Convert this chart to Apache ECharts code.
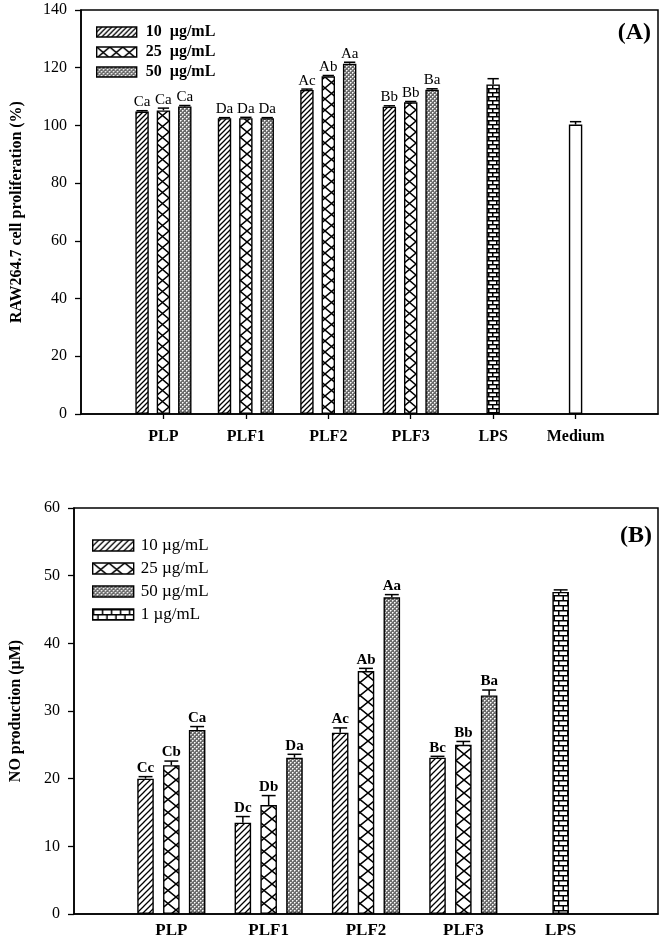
<!DOCTYPE html>
<html>
<head>
<meta charset="utf-8">
<script src="https://cdn.jsdelivr.net/npm/echarts@6/dist/echarts.min.js"></script>
<style>
  html, body { margin: 0; padding: 0; background: #fff; }
  #chart { width: 661px; height: 939px; }
</style>
</head>
<body>
<div id="chart"></div>
<script>
// ---- panel A: RAW264.7 cell proliferation (%) ----
const categoriesA = ['PLP', 'PLF1', 'PLF2', 'PLF3', 'LPS', 'Medium'];
const prolif10 = [104.8, 102.5, 112.3, 106.5];
const prolif25 = [105.2, 102.5, 117.0, 108.0];
const prolif50 = [106.6, 102.5, 121.4, 112.4];
const prolif10Err = [0.3, 0.2, 0.3, 0.3];
const prolif25Err = [0.8, 0.3, 0.3, 0.3];
const prolif50Err = [0.3, 0.2, 0.5, 0.3];
const prolifLPS = [114.2];
const prolifLPSErr = [2.0];
const prolifMedium = [100.3];
const prolifMediumErr = [1.0];
const lettersA10 = ['Ca', 'Da', 'Ac', 'Bb'];
const lettersA25 = ['Ca', 'Da', 'Ab', 'Bb'];
const lettersA50 = ['Ca', 'Da', 'Aa', 'Ba'];
const yTicksA = [0, 20, 40, 60, 80, 100, 120, 140];

// ---- panel B: NO production (uM) ----
const categoriesB = ['PLP', 'PLF1', 'PLF2', 'PLF3', 'LPS'];
const no10 = [20.0, 13.5, 26.8, 23.1];
const no25 = [22.0, 16.1, 35.9, 25.0];
const no50 = [27.2, 23.1, 46.8, 32.3];
const no10Err = [0.3, 0.9, 0.7, 0.2];
const no25Err = [0.6, 1.4, 0.4, 0.5];
const no50Err = [0.5, 0.5, 0.4, 0.8];
const noLPS = [47.6];
const noLPSErr = [0.3];
const lettersB10 = ['Cc', 'Dc', 'Ac', 'Bc'];
const lettersB25 = ['Cb', 'Db', 'Ab', 'Bb'];
const lettersB50 = ['Ca', 'Da', 'Aa', 'Ba'];
const yTicksB = [0, 10, 20, 30, 40, 50, 60];

const legendA = ['10  µg/mL', '25  µg/mL', '50  µg/mL'];
const legendB = ['10 µg/mL', '25 µg/mL', '50 µg/mL', '1 µg/mL'];

const FONT = '"Liberation Serif", "Times New Roman", serif';

// fill patterns drawn on small canvases
function makeTile(w, h, draw) {
    const c = document.createElement('canvas');
    c.width = w;
    c.height = h;
    const ctx = c.getContext('2d');
    ctx.fillStyle = '#fff';
    ctx.fillRect(0, 0, w, h);
    draw(ctx, w, h);
    return { image: c, repeat: 'repeat' };
}
function hatch(size) {
    return makeTile(size, size, (ctx, w, h) => {
        ctx.strokeStyle = '#000';
        ctx.lineWidth = 1.3;
        ctx.beginPath();
        ctx.moveTo(-1, h + 1); ctx.lineTo(w + 1, -1);
        ctx.moveTo(-1 - w, h + 1); ctx.lineTo(1, -1);
        ctx.moveTo(w - 1, h + 1); ctx.lineTo(2 * w + 1, -1);
        ctx.stroke();
    });
}
function cross(w, h) {
    return makeTile(w, h, (ctx) => {
        ctx.strokeStyle = '#000';
        ctx.lineWidth = 1.5;
        ctx.beginPath();
        ctx.moveTo(0, 0); ctx.lineTo(w, h);
        ctx.moveTo(w, 0); ctx.lineTo(0, h);
        ctx.stroke();
    });
}
function dots() {
    return makeTile(4, 4, (ctx) => {
        ctx.fillStyle = '#6c6c6c';
        ctx.fillRect(0, 0, 4, 4);
        ctx.fillStyle = '#fff';
        ctx.fillRect(0, 0, 1, 1);
        ctx.fillRect(2, 2, 1, 1);
        ctx.fillStyle = '#bcbcbc';
        ctx.fillRect(1, 0, 1, 1);
        ctx.fillRect(0, 1, 1, 1);
        ctx.fillRect(3, 2, 1, 1);
        ctx.fillRect(2, 3, 1, 1);
    });
}
function brick(w, h) {
    return makeTile(w, h, (ctx) => {
        ctx.fillStyle = '#000';
        ctx.fillRect(0, 0, w, 1.5);
        ctx.fillRect(0, h / 2, w, 1.5);
        ctx.fillRect(0, 0, 1.5, h / 2);
        ctx.fillRect(w / 2, h / 2, 1.5, h / 2);
    });
}

// pad values so they sit on category index start+1 (index 0 is an empty slot)
function place(vals, start, total) {
    const out = new Array(total).fill('-');
    vals.forEach((v, i) => { out[start + 1 + i] = v; });
    return out;
}

const nA = categoriesA.length + 2;
const nB = categoriesB.length + 2;

const barFracA = 0.163, gapA = 0.59;
const barFracB = 0.17, gapB = 0.56;

function barSeries(name, data, color, axis, frac, gap, stack) {
    return {
        name: name,
        type: 'bar',
        xAxisIndex: axis,
        yAxisIndex: axis,
        data: data,
        stack: stack,
        barWidth: (frac * 100) + '%',
        barGap: (gap * 100) + '%',
        itemStyle: { color: color, borderColor: '#000', borderWidth: 1.4 },
        emphasis: { disabled: true },
        animation: false
    };
}

// error bars (upper half only) and significance letters
function errorSeries(axis, items, frac, gap, bold) {
    return {
        type: 'custom',
        xAxisIndex: axis,
        yAxisIndex: axis,
        data: items.map(d => [d[0], d[1], d[2], d[3]]),
        animation: false,
        silent: true,
        z: 5,
        renderItem: function (params, api) {
            const cat = api.value(0), val = api.value(1), err = api.value(2), slot = api.value(3);
            const bw = api.size([1, 0])[0];
            const barW = bw * frac;
            const x = api.coord([cat, 0])[0] + slot * barW * (1 + gap);
            const y0 = api.coord([cat, val])[1];
            const y1 = api.coord([cat, val + err])[1];
            const half = barW * 0.42;
            const label = items[params.dataIndex][4];
            const children = [
                { type: 'line', shape: { x1: x, y1: y0, x2: x, y2: y1 }, style: { stroke: '#000', lineWidth: 1.5 } },
                { type: 'line', shape: { x1: x - half, y1: y1, x2: x + half, y2: y1 }, style: { stroke: '#000', lineWidth: 1.5 } }
            ];
            if (label) {
                children.push({
                    type: 'text',
                    style: {
                        text: label, x: x, y: y1 - 1,
                        align: 'center', verticalAlign: 'bottom',
                        font: (bold ? 'bold ' : '') + '15px ' + FONT, fill: '#000'
                    }
                });
            }
            return { type: 'group', children: children };
        }
    };
}

function groupItems(vals, errs, letters, slot, start) {
    return vals.map((v, i) => [start + 1 + i, v, errs[i], slot, letters ? letters[i] : '']);
}

const errItemsA = [].concat(
    groupItems(prolif10, prolif10Err, lettersA10, -1, 0),
    groupItems(prolif25, prolif25Err, lettersA25, 0, 0),
    groupItems(prolif50, prolif50Err, lettersA50, 1, 0),
    groupItems(prolifLPS, prolifLPSErr, null, 0, 4),
    groupItems(prolifMedium, prolifMediumErr, null, 0, 5)
);
const errItemsB = [].concat(
    groupItems(no10, no10Err, lettersB10, -1, 0),
    groupItems(no25, no25Err, lettersB25, 0, 0),
    groupItems(no50, no50Err, lettersB50, 1, 0),
    groupItems(noLPS, noLPSErr, null, 0, 4)
);

function xAxis(grid, cats, labelSize, margin, ticks) {
    const data = [''].concat(cats, ['']);
    return {
        type: 'category',
        gridIndex: grid,
        data: data,
        boundaryGap: false,
        axisLine: { lineStyle: { color: '#000', width: 1.5 } },
        axisTick: {
            show: ticks,
            length: 5,
            lineStyle: { color: '#000', width: 1.3 },
            interval: (i) => i > 0 && i < data.length - 1
        },
        axisLabel: {
            interval: 0, margin: margin, color: '#000',
            fontFamily: FONT, fontWeight: 'bold', fontSize: labelSize
        },
        splitLine: { show: false }
    };
}
function yAxis(grid, ticks, name, gap) {
    return {
        type: 'value',
        gridIndex: grid,
        min: ticks[0],
        max: ticks[ticks.length - 1],
        interval: ticks[1] - ticks[0],
        name: name,
        nameLocation: 'middle',
        nameGap: gap,
        nameTextStyle: { fontFamily: FONT, fontWeight: 'bold', fontSize: 16, color: '#000' },
        axisLine: { show: true, lineStyle: { color: '#000', width: 1.5 } },
        axisTick: { show: true, length: 6, lineStyle: { color: '#000', width: 1.3 } },
        axisLabel: { margin: 14, color: '#000', fontFamily: FONT, fontSize: 16 },
        splitLine: { show: false }
    };
}

const chart = echarts.init(document.getElementById('chart'), null, { renderer: 'canvas' });

const pHatchA = hatch(5), pCrossA = cross(13, 11), pDotsA = dots(), pBrickA = brick(8, 8);
const pHatchB = hatch(6), pCrossB = cross(16, 13), pDotsB = dots(), pBrickB = brick(9, 10);

const option = {
    backgroundColor: '#fff',
    animation: false,
    grid: [
        { left: 81, right: 2, top: 10, bottom: 939 - 414, show: true, borderColor: '#000', borderWidth: 1.5 },
        { left: 74, right: 2, top: 508, bottom: 939 - 916, show: true, borderColor: '#000', borderWidth: 1.5 }
    ],
    xAxis: [
        xAxis(0, categoriesA, 16, 15, true),
        xAxis(1, categoriesB, 17, 8, false)
    ],
    yAxis: [
        yAxis(0, yTicksA, 'RAW264.7 cell proliferation (%)', 56),
        yAxis(1, yTicksB, 'NO production (µM)', 50)
    ],
    legend: [
        {
            data: legendA, orient: 'vertical', left: 96, top: 24, padding: 0,
            icon: 'rect', itemWidth: 40, itemHeight: 10, itemGap: 4,
            selectedMode: false,
            itemStyle: { borderColor: '#000', borderWidth: 1.4 },
            textStyle: { fontFamily: FONT, fontWeight: 'bold', fontSize: 16, lineHeight: 16, color: '#000', padding: [0, 0, 0, 4] }
        },
        {
            data: legendB, orient: 'vertical', left: 92, top: 537, padding: 0,
            icon: 'rect', itemWidth: 41, itemHeight: 11, itemGap: 6,
            selectedMode: false,
            itemStyle: { borderColor: '#000', borderWidth: 1.4 },
            textStyle: { fontFamily: FONT, fontSize: 17, lineHeight: 16, color: '#000', padding: [0, 0, 0, 2] }
        }
    ],
    graphic: [
        { type: 'text', right: 10, top: 21, style: { text: '(A)', font: 'bold 24px ' + FONT, fill: '#000' } },
        { type: 'text', right: 9, top: 524, style: { text: '(B)', font: 'bold 24px ' + FONT, fill: '#000' } }
    ],
    series: [
        barSeries(legendA[0], place(prolif10, 0, nA), pHatchA, 0, barFracA, gapA),
        barSeries(legendA[1], place(prolif25, 0, nA), pCrossA, 0, barFracA, gapA, 'midA'),
        barSeries(legendA[2], place(prolif50, 0, nA), pDotsA, 0, barFracA, gapA),
        barSeries('LPS', place(prolifLPS, 4, nA), pBrickA, 0, barFracA, gapA, 'midA'),
        barSeries('Medium', place(prolifMedium, 5, nA), '#fff', 0, barFracA, gapA, 'midA'),
        errorSeries(0, errItemsA, barFracA, gapA, false),

        barSeries(legendB[0], place(no10, 0, nB), pHatchB, 1, barFracB, gapB),
        barSeries(legendB[1], place(no25, 0, nB), pCrossB, 1, barFracB, gapB, 'midB'),
        barSeries(legendB[2], place(no50, 0, nB), pDotsB, 1, barFracB, gapB),
        barSeries(legendB[3], place(noLPS, 4, nB), pBrickB, 1, barFracB, gapB, 'midB'),
        errorSeries(1, errItemsB, barFracB, gapB, true)
    ]
};

chart.setOption(option);
window.addEventListener('resize', () => chart.resize());
</script>
</body>
</html>
